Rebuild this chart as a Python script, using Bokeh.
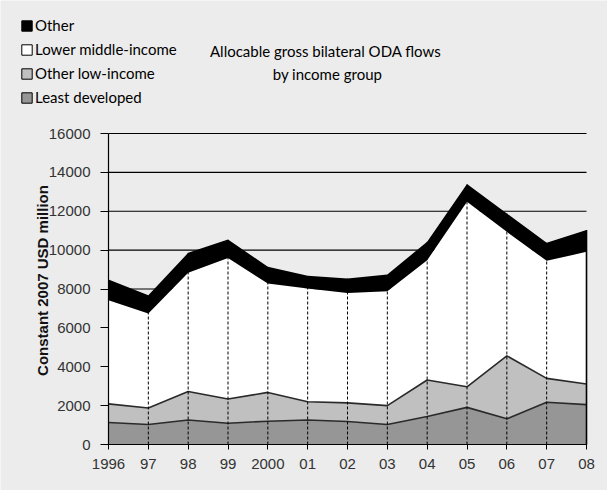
import numpy as np
from bokeh.plotting import figure
from bokeh.models import (FixedTicker, Label, Legend, LegendItem, Range1d, LinearAxis)
from bokeh.embed import file_html
from bokeh.resources import INLINE

# ---- data ----
years = [1996, 1997, 1998, 1999, 2000, 2001, 2002, 2003, 2004, 2005, 2006, 2007, 2008]
year_labels = ["1996", "97", "98", "99", "2000", "01", "02", "03", "04", "05", "06", "07", "08"]
least_developed = [1130, 1030, 1260, 1090, 1200, 1260, 1180, 1030, 1440, 1910, 1320, 2170, 2050]
other_low_income = [960, 850, 1470, 1250, 1480, 940, 960, 970, 1880, 1060, 3240, 1230, 1060]
lower_middle_income = [5330, 4860, 6100, 7260, 5600, 5830, 5660, 5890, 6160, 9520, 6380, 6050, 6800]
other = [1070, 940, 1030, 950, 860, 650, 740, 860, 950, 910, 950, 930, 1120]
y_ticks = [0, 2000, 4000, 6000, 8000, 10000, 12000, 14000, 16000]

series_names = ["Least developed", "Other low-income", "Lower middle-income", "Other"]
series_colors = ["#969696", "#c0c0c0", "#ffffff", "#000000"]
legend_order = ["Other", "Lower middle-income", "Other low-income", "Least developed"]
title_lines = ["Allocable gross bilateral  ODA flows", "by income group"]
y_title = "Constant 2007 USD million"

BG = "#ececec"
LEG_FONT = "Lato"
AX_FONT = "Liberation Sans"

W, H = 607, 490
PLOT_L, PLOT_R, PLOT_T, PLOT_B = 108, 586, 133, 444   # pixel box of the plotting area
x0, x1 = years[0], years[-1]
y0, y1 = y_ticks[0], y_ticks[-1]
px_x = (PLOT_R - PLOT_L) / (x1 - x0)
px_y = (PLOT_B - PLOT_T) / (y1 - y0)

def dx(px):
    return x0 + (px - PLOT_L) / px_x

def dy(py):
    return y0 + (PLOT_B - py) / px_y

x = np.array(years, dtype=float)
layers = [np.array(v, dtype=float) for v in (least_developed, other_low_income, lower_middle_income, other)]
tops = np.cumsum(layers, axis=0)
bottoms = np.vstack([np.zeros(len(x)), tops[:-1]])

p = figure(width=W, height=H, output_backend="svg", toolbar_location=None,
           x_range=Range1d(dx(0), dx(W)), y_range=Range1d(dy(H), dy(0)),
           x_axis_location=None, y_axis_location=None,
           min_border=0, min_border_left=0, min_border_right=0,
           min_border_top=0, min_border_bottom=0,
           background_fill_color=BG, border_fill_color=BG, outline_line_color=None)
p.xgrid.visible = False
p.ygrid.visible = False

# horizontal grid lines over the plotting area
gx0 = np.full(len(y_ticks), x0, dtype=float)
gx1 = np.full(len(y_ticks), x1, dtype=float)
p.segment(x0=gx0, y0=y_ticks, x1=gx1, y1=y_ticks, line_color="black", line_width=1.2)

# stacked areas
for b, t, c in zip(bottoms, tops, series_colors):
    p.varea(x=x, y1=b, y2=t, fill_color=c, fill_alpha=1.0)

# outlines of lower layers
p.line(x, tops[0], line_color="#2a2a2a", line_width=1.6)
p.line(x, tops[1], line_color="#2a2a2a", line_width=1.6)

# drop lines
p.segment(x0=x, y0=np.zeros(len(x)), x1=x, y1=tops[3], line_color="black",
          line_width=1, line_dash="3 2")
# right edge of the areas
p.segment(x0=x[-1:], y0=[0], x1=x[-1:], y1=tops[3][-1:], line_color="black", line_width=1.6)

# axes fixed at the corner of the plotting area
xaxis = LinearAxis(fixed_location=y0, bounds=(x0, x1), ticker=FixedTicker(ticks=years),
                   major_label_overrides={yr: lab for yr, lab in zip(years, year_labels)})
yaxis = LinearAxis(fixed_location=x0, bounds=(y0, y1), ticker=FixedTicker(ticks=y_ticks))
for ax in (xaxis, yaxis):
    ax.axis_line_color = "black"
    ax.axis_line_width = 1.2
    ax.major_tick_line_color = "black"
    ax.major_tick_in = 0
    ax.minor_tick_line_color = None
    ax.major_label_text_font = AX_FONT
    ax.major_label_text_font_size = "15px"
    ax.major_label_text_color = "#333333"
xaxis.major_tick_out = 5
xaxis.major_label_standoff = 9
yaxis.major_tick_out = 8
yaxis.major_label_standoff = 10
p.add_layout(xaxis, "below")
p.add_layout(yaxis, "left")

# legend via dummy quads (kept outside the visible ranges)
dummy = {}
for name, c in zip(series_names, series_colors):
    dummy[name] = p.quad(left=[dx(-200)], right=[dx(-190)], bottom=[dy(H + 200)], top=[dy(H + 190)],
                         fill_color=c, line_color="black", line_width=1)
legend = Legend(items=[LegendItem(label=n, renderers=[dummy[n]]) for n in legend_order],
                location=(20, H - 107), orientation="vertical",
                glyph_width=13, glyph_height=13, label_standoff=2,
                label_height=20, spacing=4, padding=0, margin=0,
                border_line_color=None, background_fill_alpha=0,
                label_text_font=LEG_FONT, label_text_font_size="15px",
                label_text_color="#000000")
p.add_layout(legend, "center")

# title (two lines)
for txt, py in zip(title_lines, (50, 73)):
    p.add_layout(Label(x=dx(327), y=dy(py), text=txt, text_align="center",
                       text_baseline="middle", text_font=LEG_FONT,
                       text_font_size="15px", text_color="#000000"))

# y-axis title (overlapping tick labels as in the reference)
p.add_layout(Label(x=dx(42), y=dy(280), text=y_title,
                   angle=np.pi / 2, text_align="center", text_baseline="middle",
                   text_font=AX_FONT, text_font_size="15px", text_font_style="bold",
                   text_color="#111111"))

open("out.html", "w").write(file_html(p, INLINE))
